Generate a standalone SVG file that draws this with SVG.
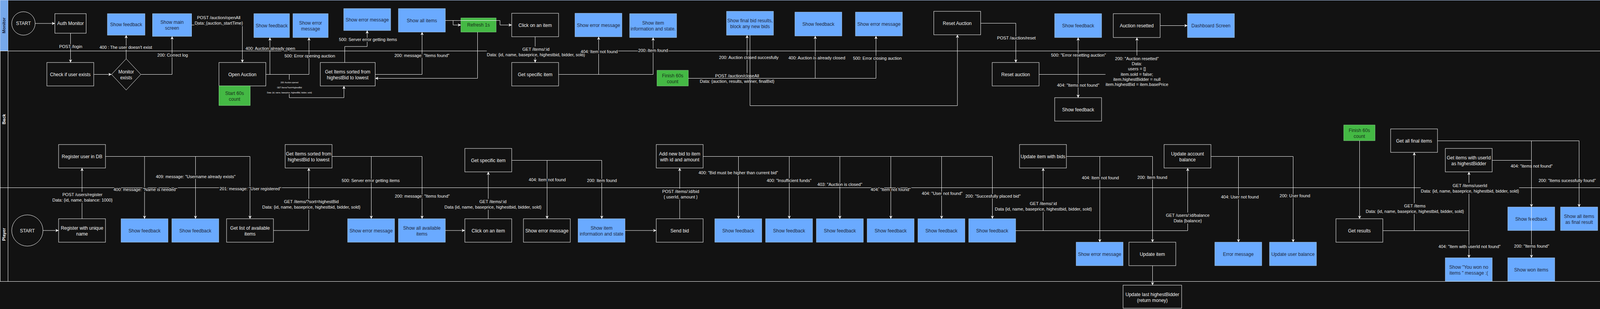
<svg xmlns="http://www.w3.org/2000/svg" width="4211" height="791" viewBox="0 0 4211 791">
<defs>
<marker id="arr" viewBox="0 0 10 10" refX="10" refY="5" markerWidth="8" markerHeight="8" orient="auto" markerUnits="userSpaceOnUse"><path d="M0,0 L10,5 L0,10 L3,5 z" fill="#ffffff"/></marker>
<style>
.bg{fill:#121212}
.nb{fill:#121212;stroke:#ffffff;stroke-width:1}
.nu{fill:#6aaaff;stroke:#a3c8f5;stroke-width:1}
.ng{fill:#44b944;stroke:#7fd07f;stroke-width:1}
text{font-family:"Liberation Sans",Arial,Helvetica,sans-serif;text-anchor:middle;dominant-baseline:central}
.tw{font-size:12px;fill:#f2f2f2}
.td{font-size:12px;fill:#1c2840}
.tg{font-size:12px;fill:#17301a}
.lbl{font-size:11px;fill:#f2f2f2;stroke:#121212;stroke-width:4;stroke-linejoin:round;paint-order:stroke}
.tiny{font-size:5px;fill:#f2f2f2}
.lb{fill:#121212;stroke:none}
.e{fill:none;stroke:#ffffff;stroke-width:1;marker-end:url(#arr)}
.ln{fill:none;stroke:#ffffff;stroke-width:1}
.lh{font-size:11px;font-weight:bold}
</style>
</defs>
<rect class="bg" x="0" y="0" width="4211" height="791"/>
<g id="lanes">
<rect x="0.5" y="0.5" width="4209" height="130" fill="none" stroke="#b3cdf5"/>
<rect x="0.5" y="0.5" width="20" height="130" fill="#76a8ea" stroke="#b3cdf5"/>
<text class="lh" x="10" y="65" fill="#14203a" transform="rotate(-90 10 65)">Monitor</text>
<rect class="ln" x="0.5" y="130.5" width="4209" height="350"/>
<line class="ln" x1="20.5" y1="130.5" x2="20.5" y2="720.5"/>
<text class="lh" x="10" y="305" fill="#ffffff" transform="rotate(-90 10 305)">Back</text>
<rect class="ln" x="0.5" y="480.5" width="4209" height="240"/>
<text class="lh" x="10" y="600" fill="#ffffff" transform="rotate(-90 10 600)">Player</text>
</g>
<g id="nodes">
<g id="m_start"><ellipse class="nb" cx="60" cy="60" rx="30" ry="30"/><text class="tw" x="60" y="60">START</text></g>
<g id="m_auth"><rect class="nb" x="140.5" y="35" width="80" height="50"/><text class="tw" x="180.5" y="60">Auth Monitor</text></g>
<g id="m_fb1"><rect class="nu" x="275" y="35" width="96" height="55"/><text class="td" x="323" y="62.5">Show feedback</text></g>
<g id="m_main"><rect class="nu" x="390.5" y="35" width="100" height="58"/><text class="td"><tspan x="440.5" y="57">Show main</tspan><tspan x="440.5" y="72">screen</tspan></text></g>
<g id="m_fb2"><rect class="nu" x="650" y="35" width="91" height="61"/><text class="td" x="695.5" y="65.5">Show feedback</text></g>
<g id="m_err1"><rect class="nu" x="750" y="35" width="90" height="61"/><text class="td"><tspan x="795" y="58.5">Show error</tspan><tspan x="795" y="73.5">message</tspan></text></g>
<g id="m_err2"><rect class="nu" x="880" y="22" width="120" height="56"/><text class="td" x="940" y="50.5">Show error message</text></g>
<g id="m_all"><rect class="nu" x="1020" y="22" width="120" height="60"/><text class="td" x="1080" y="52.5">Show all items</text></g>
<g id="m_refresh"><rect class="ng" x="1180" y="46" width="90" height="36"/><text class="tg" x="1225" y="64">Refresh 1s</text></g>
<g id="m_click"><rect class="nb" x="1310" y="34" width="120" height="60"/><text class="tw" x="1370" y="64.5">Click on an item</text></g>
<g id="m_err3"><rect class="nu" x="1472" y="34" width="120" height="60"/><text class="td" x="1532" y="64.5">Show error message</text></g>
<g id="m_info"><rect class="nu" x="1612" y="35" width="120" height="61"/><text class="td"><tspan x="1672" y="58.5">Show item</tspan><tspan x="1672" y="73.5">information and state.</tspan></text></g>
<g id="m_final"><rect class="nu" x="1860" y="29" width="120" height="61"/><text class="td"><tspan x="1920" y="52.5">Show final bid results,</tspan><tspan x="1920" y="67.5">block any new bids</tspan></text></g>
<g id="m_fb3"><rect class="nu" x="2035" y="31" width="120" height="61"/><text class="td" x="2095" y="61.5">Show feedback</text></g>
<g id="m_err4"><rect class="nu" x="2190" y="31" width="120" height="61"/><text class="td" x="2250" y="61.5">Show error message</text></g>
<g id="m_reset"><rect class="nb" x="2390.5" y="29" width="120" height="60"/><text class="tw" x="2450.5" y="59.5">Reset Auction</text></g>
<g id="m_fb4"><rect class="nu" x="2700" y="35" width="120" height="61"/><text class="td" x="2760" y="65.5">Show feedback</text></g>
<g id="m_resetted"><rect class="nb" x="2850" y="35" width="120" height="61"/><text class="tw" x="2910" y="65.5">Auction resetted</text></g>
<g id="m_dash"><rect class="nu" x="3040" y="35" width="120" height="61"/><text class="td" x="3100" y="65.5">Dashboard Screen</text></g>

<g id="b_check"><rect class="nb" x="120" y="160" width="120" height="60"/><text class="tw" x="180" y="190.5">Check if user exists</text></g>
<g id="b_exists"><polygon class="nb" points="323,150.5 360.5,190.5 323,230.5 285.5,190.5"/><text class="tw"><tspan x="323" y="183.5">Monitor</tspan><tspan x="323" y="198.5">exists</tspan></text></g>
<g id="b_open"><rect class="nb" x="560.5" y="160" width="120" height="60"/><text class="tw" x="620.5" y="190.5">Open Auction</text></g>
<g id="b_start60"><rect class="ng" x="560.5" y="220" width="80" height="50"/><text class="tg"><tspan x="600.5" y="238.5">Start 60s</tspan><tspan x="600.5" y="253.5">count</tspan></text></g>
<g id="b_sorted1"><rect class="nb" x="820" y="160" width="140.5" height="60"/><text class="tw"><tspan x="890" y="183.5">Get Items sorted from</tspan><tspan x="890" y="198.5">highestBid to lowest</tspan></text></g>
<g id="b_specific1"><rect class="nb" x="1310" y="160" width="120" height="60"/><text class="tw" x="1370" y="190.5">Get specific item</text></g>
<g id="b_finish1"><rect class="ng" x="1682" y="180" width="80" height="40"/><text class="tg"><tspan x="1722" y="193.5">Finish 60s</tspan><tspan x="1722" y="208.5">count</tspan></text></g>
<g id="b_reset"><rect class="nb" x="2540" y="160" width="120" height="60"/><text class="tw" x="2600" y="190.5">Reset auction</text></g>
<g id="b_fb"><rect class="nb" x="2700" y="250" width="120" height="60"/><text class="tw" x="2760" y="280.5">Show feedback</text></g>
<g id="b_register"><rect class="nb" x="150" y="370" width="120" height="60"/><text class="tw" x="210" y="400.5">Register user in DB</text></g>
<g id="b_sorted2"><rect class="nb" x="730" y="370" width="120" height="60"/><text class="tw"><tspan x="790" y="393.5">Get Items sorted from</tspan><tspan x="790" y="408.5">highestBid to lowest</tspan></text></g>
<g id="b_specific2"><rect class="nb" x="1190" y="380" width="120" height="60"/><text class="tw" x="1250" y="410.5">Get specific item</text></g>
<g id="b_addbid"><rect class="nb" x="1680" y="370" width="120" height="60"/><text class="tw"><tspan x="1740" y="393.5">Add new bid to item</tspan><tspan x="1740" y="408.5">with id and amount</tspan></text></g>
<g id="b_update"><rect class="nb" x="2610" y="370" width="120" height="60"/><text class="tw" x="2670" y="400.5">Update item with bids</text></g>
<g id="b_balance"><rect class="nb" x="2980" y="370" width="120" height="60"/><text class="tw"><tspan x="3040" y="393.5">Update account</tspan><tspan x="3040" y="408.5">balance</tspan></text></g>
<g id="b_finish2"><rect class="ng" x="3440" y="320" width="80" height="40"/><text class="tg"><tspan x="3480" y="333.5">Finish 60s</tspan><tspan x="3480" y="348.5">count</tspan></text></g>
<g id="b_allfinal"><rect class="nb" x="3560" y="330" width="120" height="60"/><text class="tw" x="3620" y="360.5">Get all final items</text></g>
<g id="b_userid"><rect class="nb" x="3700" y="380" width="120" height="60"/><text class="tw"><tspan x="3760" y="403.5">Get items with userId</tspan><tspan x="3760" y="418.5">as highestBidder</tspan></text></g>

<g id="p_start"><ellipse class="nb" cx="70" cy="590" rx="40" ry="40"/><text class="tw" x="70" y="590.5">START</text></g>
<g id="p_register"><rect class="nb" x="150" y="560" width="120" height="60"/><text class="tw"><tspan x="210" y="583.5">Register with unique</tspan><tspan x="210" y="598.5">name</tspan></text></g>
<g id="p_fb1"><rect class="nu" x="310" y="560" width="120" height="60"/><text class="td" x="370" y="590.5">Show feedback</text></g>
<g id="p_fb2"><rect class="nu" x="440" y="560" width="120" height="60"/><text class="td" x="500" y="590.5">Show feedback</text></g>
<g id="p_list"><rect class="nb" x="580" y="560" width="120" height="60"/><text class="tw"><tspan x="640" y="583.5">Get list of available</tspan><tspan x="640" y="598.5">items</tspan></text></g>
<g id="p_err1"><rect class="nu" x="890" y="560" width="120" height="60"/><text class="td" x="950" y="590.5">Show error message</text></g>
<g id="p_all"><rect class="nu" x="1020" y="560" width="120" height="60"/><text class="td"><tspan x="1080" y="583.5">Show all available</tspan><tspan x="1080" y="598.5">items</tspan></text></g>
<g id="p_click"><rect class="nb" x="1190" y="560" width="120" height="60"/><text class="tw" x="1250" y="590.5">Click on an item</text></g>
<g id="p_err2"><rect class="nb" x="1340" y="560" width="120" height="60"/><text class="tw" x="1400" y="590.5">Show error message</text></g>
<g id="p_info"><rect class="nu" x="1480" y="560" width="120" height="60"/><text class="td"><tspan x="1540" y="583.5">Show item</tspan><tspan x="1540" y="598.5">information and state</tspan></text></g>
<g id="p_send"><rect class="nb" x="1680" y="560" width="120" height="60"/><text class="tw" x="1740" y="590.5">Send bid</text></g>
<g id="p_fb3"><rect class="nu" x="1830" y="560" width="120" height="60"/><text class="td" x="1890" y="590.5">Show feedback</text></g>
<g id="p_fb4"><rect class="nu" x="1960" y="560" width="120" height="60"/><text class="td" x="2020" y="590.5">Show feedback</text></g>
<g id="p_fb5"><rect class="nu" x="2090" y="560" width="120" height="60"/><text class="td" x="2150" y="590.5">Show feedback</text></g>
<g id="p_fb6"><rect class="nu" x="2220" y="560" width="120" height="60"/><text class="td" x="2280" y="590.5">Show feedback</text></g>
<g id="p_fb7"><rect class="nu" x="2350" y="560" width="120" height="60"/><text class="td" x="2410" y="590.5">Show feedback</text></g>
<g id="p_fb8"><rect class="nu" x="2480" y="560" width="120" height="60"/><text class="td" x="2540" y="590.5">Show feedback</text></g>
<g id="p_err3"><rect class="nu" x="2755" y="620" width="120" height="60"/><text class="td" x="2815" y="650.5">Show error message</text></g>
<g id="p_updateitem"><rect class="nb" x="2890" y="620" width="120" height="60"/><text class="tw" x="2950" y="650.5">Update item</text></g>
<g id="p_errmsg"><rect class="nu" x="3110" y="620" width="120" height="60"/><text class="td" x="3170" y="650.5">Error message</text></g>
<g id="p_updbal"><rect class="nu" x="3250" y="620" width="120" height="60"/><text class="td" x="3310" y="650.5">Update user balance</text></g>
<g id="p_results"><rect class="nb" x="3420" y="560" width="120" height="60"/><text class="tw" x="3480" y="590.5">Get results</text></g>
<g id="p_fb9"><rect class="nu" x="3860" y="530" width="120" height="60"/><text class="td" x="3920" y="560.5">Show feedback</text></g>
<g id="p_allfinal"><rect class="nu" x="3995" y="530" width="95" height="60"/><text class="td"><tspan x="4042.5" y="553.5">Show all items</tspan><tspan x="4042.5" y="568.5">as final result</tspan></text></g>
<g id="p_wonno"><rect class="nu" x="3700" y="660" width="120" height="60"/><text class="td"><tspan x="3760" y="683.5">Show &quot;You won no</tspan><tspan x="3760" y="698.5">items &quot; message :(</tspan></text></g>
<g id="p_won"><rect class="nu" x="3860" y="660" width="120" height="60"/><text class="td" x="3920" y="690.5">Show won items</text></g>
<g id="o_lastbidder"><rect class="nb" x="2875" y="730" width="150" height="59"/><text class="tw"><tspan x="2950" y="753.5">Update last highestBidder</tspan><tspan x="2950" y="768.5">(return money)</tspan></text></g>
</g>

<g id="connectors">
<path class="e" d="M90,60 H140.5"/>
<path class="e" d="M180.5,85 V160"/><text class="lbl" x="181" y="119">POST /login</text>
<path class="e" d="M240,190.5 H285.5"/>
<path class="e" d="M323,150.5 V90"/><text class="lbl" x="322" y="121">400 : The user doesn't exist</text>
<path class="e" d="M360.5,190.5 H440.5 V93"/><text class="lbl" x="442" y="141">200: Correct log</text>
<path class="e" d="M490.5,64 H620.5 V160"/><text class="lbl" x="560" y="45">POST /auction/openAll</text><text class="lbl" x="560" y="58.5">Data: {auction, startTime}</text>
<path class="e" d="M680.5,190.5 H691 V96"/><text class="lbl" x="692" y="124">400: Auction already open</text>
<path class="e" d="M680.5,190.5 H791 V96"/><text class="lbl" x="793" y="143">500: Error opening auction</text>
<path class="e" d="M680.5,190.5 H740.5 V250 H880.5 V220"/><rect class="lb" x="685" y="204" width="114" height="37"/><text class="tiny" x="741" y="211">200: Auction opened</text><text class="tiny" x="741" y="224">GET /items/?sort=highestBid</text><text class="tiny" x="741" y="237">Data: {id, name, baseprice, highestBid, bidder, sold}</text>
<path class="e" d="M882.5,160 V119 H940 V78"/><text class="lbl" x="942" y="101">500: Server error getting items</text>
<path class="e" d="M960.5,190.5 H1080.5 V82"/><text class="lbl" x="1080" y="142">200: message: &quot;Items found&quot;</text>
<path class="e" d="M1140,52.5 H1160 V64 H1180"/>
<path class="e" d="M1140,52.5 H1280 V64 H1310"/>
<path class="e" d="M1222.5,82 V200.5 H960.5"/>
<path class="e" d="M1370,94 V160"/><rect class="lb" x="1246" y="119" width="252" height="28"/><text class="lbl" x="1372" y="126">GET /items/:id</text><text class="lbl" x="1372" y="140">Data: {id, name, baseprice, highestbid, bidder, sold}</text>
<path class="e" d="M1430,190.5 H1532.5 V94"/><text class="lbl" x="1534" y="132">404: Item not found</text>
<path class="e" d="M1430,190.5 H1672 V96"/><text class="lbl" x="1672" y="129">200: Item found</text>
<path class="e" d="M1762,200.5 H1912.5 V90"/><rect class="lb" x="1792" y="187" width="190" height="28"/><text class="lbl" x="1887" y="194">POST /auction/closeAll</text><text class="lbl" x="1887" y="208">Data: {auction, results, winner, finalBid}</text><text class="lbl" x="1917" y="147">200: Auction closed succesfully</text>
<path class="e" d="M1762,200.5 H2087 V92"/><text class="lbl" x="2091" y="148">400: Auction is already closed</text>
<path class="e" d="M1762,200.5 H2242.5 V92"/><text class="lbl" x="2246" y="149">500: Error closing auction</text>
<path class="e" d="M1920,90 V270.5 H2451 V89"/>
<path class="e" d="M2510.5,59.5 H2600.5 V160"/><text class="lbl" x="2602" y="97">POST /auction/reset</text>
<path class="e" d="M2660,190.5 H2760 V96"/><text class="lbl" x="2761" y="141">500: &quot;Error resetting auction&quot;</text>
<path class="e" d="M2660,190.5 H2760 V250"/><text class="lbl" x="2760" y="218">404: &quot;Items not found&quot;</text>
<path class="e" d="M2660,190.5 H2910.5 V96"/><rect class="lb" x="2830" y="142" width="164" height="80"/><text class="lbl" x="2910.5" y="149.5">200: &quot;Auction resetted&quot;</text><text class="lbl" x="2910.5" y="162.5">Data:</text><text class="lbl" x="2910.5" y="175.5">users = []</text><text class="lbl" x="2910.5" y="189.5">item.sold = false;</text><text class="lbl" x="2910.5" y="202.5">item.highestBidder = null</text><text class="lbl" x="2910.5" y="215.5">item.highestBid = item.basePrice</text>
<path class="e" d="M2970,65.5 H3040"/>

<path class="e" d="M110,590 H150"/>
<path class="e" d="M210,560 V430"/><rect class="lb" x="133" y="491" width="156" height="28"/><text class="lbl" x="211" y="498">POST /users/register</text><text class="lbl" x="211" y="512">Data: {id, name, balance: 1000}</text>
<path class="e" d="M270,400.5 H370 V560"/><text class="lbl" x="372" y="485">400: message: &quot;Name is needed&quot;</text>
<path class="e" d="M270,400.5 H500.5 V560"/><text class="lbl" x="501" y="452">409: message: &quot;Username already exists&quot;</text>
<path class="e" d="M270,400.5 H640 V560"/><text class="lbl" x="641" y="483">201: message: &quot;User registered&quot;</text>
<path class="e" d="M700,590 H790.5 V430"/><rect class="lb" x="671" y="509" width="252" height="28"/><text class="lbl" x="797" y="516">GET /items/?sort=highestBid</text><text class="lbl" x="797" y="530">Data: {id, name, baseprice, highestbid, bidder, sold}</text>
<path class="e" d="M850,400.5 H950.5 V560"/><text class="lbl" x="949" y="462">500: Server error getting items</text>
<path class="e" d="M850,400.5 H1080.5 V560"/><text class="lbl" x="1081" y="502">200: message: &quot;Items found&quot;</text>
<path class="e" d="M1140,590 H1190"/>
<path class="e" d="M1250,560 V440"/><rect class="lb" x="1137" y="509" width="250" height="28"/><text class="lbl" x="1262" y="516">GET /items/:id</text><text class="lbl" x="1262" y="530">Data {id, name, baseprice, highestbid, bidder, sold}</text>
<path class="e" d="M1310,410.5 H1400.5 V560"/><text class="lbl" x="1401" y="460">404: Item not found</text>
<path class="e" d="M1310,410.5 H1540.5 V560"/><text class="lbl" x="1541" y="462">200: Item found</text>
<path class="e" d="M1600,590 H1680"/>
<path class="e" d="M1740,560 V430"/><rect class="lb" x="1695" y="483" width="96" height="28"/><text class="lbl" x="1742.5" y="490">POST /items/:id/bid</text><text class="lbl" x="1742.5" y="504">{ userId, amount }</text>
<path class="e" d="M1800,400.5 H1890.5 V560"/><text class="lbl" x="1890" y="442">400: &quot;Bid must be higher than current bid&quot;</text>
<path class="e" d="M1800,400.5 H2020.5 V560"/><text class="lbl" x="2020" y="462">400: &quot;Insufficient funds&quot;</text>
<path class="e" d="M1800,400.5 H2150 V560"/><text class="lbl" x="2150" y="472">403: &quot;Auction is closed&quot;</text>
<path class="e" d="M1800,400.5 H2280.5 V560"/><text class="lbl" x="2280" y="485">404: &quot;Item not found&quot;</text>
<path class="e" d="M1800,400.5 H2410.5 V560"/><text class="lbl" x="2412" y="495">404: &quot;User not found&quot;</text>
<path class="e" d="M1800,400.5 H2540.5 V560"/><text class="lbl" x="2542" y="502">200: &quot;Succesfully placed bid&quot;</text>
<path class="e" d="M2600,590.5 H2670.5 V430"/><rect class="lb" x="2547" y="514" width="248" height="28"/><text class="lbl" x="2671" y="521">GET /items/:id</text><text class="lbl" x="2671" y="535">Data {id, name, baseprice, highestbid, bidder, sold}</text>
<path class="e" d="M2600,590.5 H3040.5 V430"/><rect class="lb" x="2985" y="544" width="112" height="28"/><text class="lbl" x="3040.5" y="551">GET /users/:id/balance</text><text class="lbl" x="3040.5" y="565">Data {balance}</text>
<path class="e" d="M2730,400.5 H2815.5 V620"/><text class="lbl" x="2817" y="455">404: Item not found</text>
<path class="e" d="M2730,400.5 H2950.5 V620"/><text class="lbl" x="2950" y="454">200: Item found</text>
<path class="e" d="M2950.5,680 V730"/>
<path class="e" d="M3100,400.5 H3170.5 V620"/><text class="lbl" x="3174" y="504">404: User not found</text>
<path class="e" d="M3100,400.5 H3310.5 V620"/><text class="lbl" x="3315" y="501">200: User found</text>
<path class="e" d="M3480.5,360 V560"/>
<path class="e" d="M3540,590.5 H3620.5 V390"/><rect class="lb" x="3496" y="520" width="252" height="28"/><text class="lbl" x="3622" y="527">GET /items</text><text class="lbl" x="3622" y="541">Data: {id, name, baseprice, highestbid, bidder, sold}</text>
<path class="e" d="M3540,590.5 H3760.5 V440"/>
<path class="e" d="M3760.5,440 V660"/><text class="lbl" x="3762" y="631">404: &quot;Item with userId not found&quot;</text>
<rect class="lb" x="3637" y="468" width="252" height="28"/><text class="lbl" x="3763" y="475">GET /items/userId</text><text class="lbl" x="3763" y="489">Data: {id, name, baseprice, highestbid, bidder, sold}</text>
<path class="e" d="M3680,360.5 H3920.5 V530"/><text class="lbl" x="3921" y="425">404: &quot;items not found&quot;</text>
<path class="e" d="M3680,360.5 H4042.5 V530"/><text class="lbl" x="4012" y="462">200: &quot;Items sucessfully found&quot;</text>
<path class="e" d="M3820,410.5 H3920.5 V660"/><text class="lbl" x="3921" y="630">200: &quot;Items found&quot;</text>
</g>
</svg>
